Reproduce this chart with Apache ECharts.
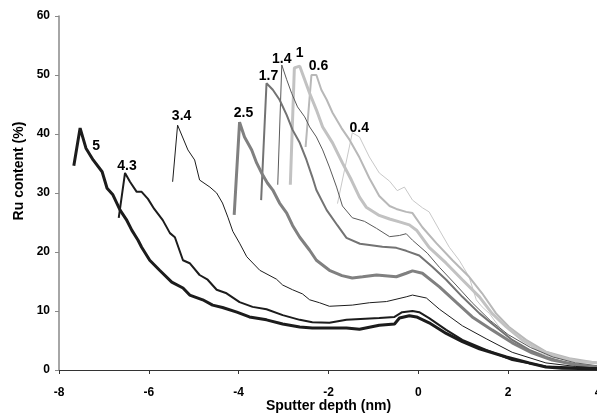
<!DOCTYPE html>
<html>
<head>
<meta charset="utf-8">
<script src="https://cdn.jsdelivr.net/npm/echarts@6/dist/echarts.min.js"></script>
<style>
  html, body { margin: 0; padding: 0; background: #fff; }
  #main { width: 597px; height: 416px; }
</style>
</head>
<body>
<div id="main"></div>
<script>
// Ru content vs sputter depth, one curve per label (nm)
var labels = ['5', '4.3', '3.4', '2.5', '1.7', '1.4', '1', '0.6', '0.4']

var s5 = [[-7.67,34.6],[-7.53,41.0],[-7.4,37.6],[-7.24,35.6],[-7.04,33.6],[-6.93,30.8],[-6.8,29.7],[-6.64,27.1],[-6.5,25.5],[-6.38,23.7],[-6.24,22.0],[-6.16,20.8],[-5.98,18.6],[-5.76,16.9],[-5.49,14.9],[-5.24,13.9],[-5.09,12.7],[-4.8,11.9],[-4.58,11.0],[-4.36,10.6],[-4.04,9.8],[-3.76,9.0],[-3.38,8.5],[-3.02,7.8],[-2.64,7.3],[-2.36,7.1],[-1.6,7.1],[-1.31,6.9],[-0.87,7.6],[-0.53,7.8],[-0.42,8.8],[-0.2,9.2],[-0.04,9.0],[0.24,8.0],[0.62,6.2],[0.98,4.8],[1.36,3.6],[1.96,2.2],[2.47,1.2],[2.84,0.5],[3.2,0.3],[4.0,0.2]]
var s43 = [[-6.67,25.8],[-6.53,33.4],[-6.42,31.9],[-6.27,30.2],[-6.16,30.2],[-6.02,29.0],[-5.88,27.3],[-5.69,25.4],[-5.53,23.2],[-5.42,22.5],[-5.24,18.6],[-5.09,18.1],[-4.87,16.1],[-4.69,15.3],[-4.49,13.6],[-4.27,13.0],[-3.98,11.5],[-3.69,10.7],[-3.38,10.3],[-3.02,9.3],[-2.64,8.5],[-2.36,8.1],[-1.98,8.0],[-1.6,8.5],[-0.87,8.8],[-0.53,9.0],[-0.36,9.8],[-0.13,10.0],[0.02,9.8],[0.24,8.8],[0.62,6.8],[0.98,5.1],[1.51,3.4],[2.09,1.7],[2.84,0.6],[4.0,0.3]]
var s34 = [[-5.47,31.9],[-5.36,41.5],[-5.13,37.3],[-4.98,35.6],[-4.87,32.2],[-4.64,31.0],[-4.49,30.0],[-4.36,28.3],[-4.24,25.9],[-4.13,23.5],[-3.98,21.5],[-3.82,19.2],[-3.53,16.9],[-3.16,15.4],[-3.02,14.4],[-2.8,13.6],[-2.58,12.9],[-2.42,11.9],[-2.2,11.4],[-1.98,10.8],[-1.47,11.0],[-1.09,11.4],[-0.71,11.6],[-0.27,12.4],[-0.13,12.7],[0.18,12.2],[0.47,10.3],[0.98,7.5],[1.51,5.3],[2.09,3.0],[2.84,1.2],[3.5,0.6],[4.0,0.3]]
var s25 = [[-4.1,26.3],[-3.98,42.0],[-3.87,39.5],[-3.71,37.3],[-3.6,35.1],[-3.49,33.4],[-3.36,31.7],[-3.24,30.5],[-3.09,28.3],[-2.93,26.6],[-2.8,24.5],[-2.64,22.5],[-2.42,20.3],[-2.27,18.6],[-1.98,16.9],[-1.7,16.0],[-1.47,15.6],[-1.24,15.8],[-0.93,16.1],[-0.49,15.8],[-0.27,16.4],[-0.13,16.8],[0.09,16.4],[0.47,14.1],[0.84,11.5],[1.2,9.0],[1.64,6.8],[2.09,4.6],[2.53,2.9],[2.98,1.7],[3.58,0.8],[4.0,0.5]]
var s17 = [[-3.5,28.8],[-3.38,48.6],[-3.24,47.5],[-3.09,45.8],[-2.93,43.2],[-2.8,40.7],[-2.64,38.5],[-2.49,35.6],[-2.36,32.7],[-2.27,30.5],[-2.04,27.1],[-1.8,24.5],[-1.6,22.4],[-1.3,21.4],[-1.09,21.2],[-0.8,20.9],[-0.49,20.7],[-0.27,20.2],[0.02,19.4],[0.31,17.5],[0.62,15.3],[0.98,12.4],[1.36,9.6],[1.73,7.3],[2.09,5.1],[2.47,3.4],[2.84,2.2],[3.29,1.2],[4.0,0.5]]
var s14 = [[-3.13,31.4],[-3.04,51.7],[-2.93,49.2],[-2.82,46.9],[-2.69,44.6],[-2.53,42.9],[-2.42,41.2],[-2.27,39.5],[-2.13,37.3],[-1.98,34.4],[-1.82,31.0],[-1.69,27.8],[-1.47,25.8],[-1.2,25.2],[-0.93,24.0],[-0.64,22.6],[-0.42,22.8],[-0.27,23.1],[-0.13,22.0],[0.2,19.8],[0.47,17.4],[0.84,14.4],[1.2,11.4],[1.6,8.4],[2.0,6.0],[2.5,3.8],[3.0,2.2],[3.5,1.2],[4.0,0.7]]
var s1 = [[-2.85,31.4],[-2.76,51.2],[-2.64,51.5],[-2.53,49.2],[-2.42,46.9],[-2.27,44.1],[-2.13,41.2],[-1.91,38.5],[-1.69,35.1],[-1.49,32.2],[-1.31,29.3],[-1.16,27.6],[-0.87,26.2],[-0.64,25.6],[-0.42,25.1],[-0.2,24.6],[-0.04,23.7],[0.24,20.8],[0.62,18.1],[0.98,15.3],[1.36,12.4],[1.64,9.6],[1.96,7.3],[2.31,5.1],[2.69,3.4],[3.13,2.2],[3.58,1.4],[4.0,1.2]]
var s06 = [[-2.51,37.8],[-2.38,50.0],[-2.27,50.0],[-2.16,47.5],[-2.04,45.8],[-1.91,43.6],[-1.71,41.0],[-1.53,39.0],[-1.31,36.0],[-1.09,32.5],[-0.87,29.5],[-0.64,27.8],[-0.49,27.3],[-0.27,26.8],[-0.13,26.6],[0.09,24.2],[0.4,21.5],[0.76,18.6],[1.13,15.8],[1.42,13.0],[1.73,9.6],[2.02,7.3],[2.4,5.1],[2.84,3.1],[3.36,2.0],[4.0,1.2]]
var s04 = [[-1.8,28.2],[-1.47,40.2],[-1.31,39.5],[-1.2,37.8],[-1.09,36.1],[-0.87,33.4],[-0.64,32.0],[-0.47,30.4],[-0.31,31.0],[-0.13,28.8],[0.09,27.5],[0.24,26.8],[0.47,23.7],[0.69,20.8],[0.91,18.6],[1.13,15.8],[1.29,11.9],[1.42,10.7],[1.58,9.6],[1.8,7.3],[2.09,5.1],[2.47,3.4],[2.98,2.2],[3.58,1.4],[4.0,1.2]]

var allData = [s5, s43, s34, s25, s17, s14, s1, s06, s04]

// line looks, same order as labels
var colors = ['#1c1c1c', '#1c1c1c', '#1c1c1c', '#808080', '#737373', '#5a5a5a', '#c2c2c2', '#b8b8b8', '#c8c8c8']
var widths = [3, 2, 1, 3, 2, 1, 3, 2, 1]
var labelOffsets = [[16, 18], [2, -7], [4, -9], [4, -9], [2, -7], [0, -6], [0, -13], [7, -9], [7, -5]]

var peakOf = function(arr) {
    var best = arr[0]
    arr.forEach(function(p) {
        if (p[1] > best[1]) best = p
    })
    return best
}

var series = []
// draw light curves first so the dark ones sit on top
for (var i = allData.length - 1; i >= 0; i--) {
    series.push({
        name: labels[i],
        type: 'line',
        data: allData[i],
        showSymbol: false,
        symbol: 'none',
        smooth: false,
        lineStyle: { color: colors[i], width: widths[i] },
        markPoint: {
            symbol: 'circle',
            symbolSize: 1,
            itemStyle: { color: 'rgba(0,0,0,0)' },
            label: {
                show: true,
                position: 'inside',
                formatter: labels[i],
                offset: labelOffsets[i],
                color: '#000',
                fontWeight: 'bold',
                fontSize: 14,
                fontFamily: 'Liberation Sans, Arial, sans-serif'
            },
            data: [{ coord: peakOf(allData[i]) }]
        },
        z: 2
    })
}

var myChart = echarts.init(document.querySelector('#main'))
var option = {
    animation: false,
    backgroundColor: '#fff',
    textStyle: { fontFamily: 'Liberation Sans, Arial, sans-serif' },
    grid: { left: 59, top: 16, width: 539, height: 354, outerBoundsMode: 'none', containLabel: false },
    xAxis: {
        type: 'value',
        min: -8,
        max: 4,
        interval: 2,
        name: 'Sputter depth (nm)',
        nameLocation: 'middle',
        nameGap: 29,
        nameMoveOverlap: false,
        nameTextStyle: { color: '#000', fontWeight: 'bold', fontSize: 14 },
        splitLine: { show: false },
        axisLine: { onZero: false, lineStyle: { color: '#333', width: 1 } },
        axisTick: { show: true, length: 4, lineStyle: { color: '#333' } },
        axisLabel: { color: '#000', fontWeight: 'bold', fontSize: 12, margin: 17 }
    },
    yAxis: {
        type: 'value',
        min: 0,
        max: 60,
        interval: 10,
        name: 'Ru content (%)',
        nameLocation: 'middle',
        nameGap: 32,
        // the title sits above the middle of the axis and is squeezed lengthwise
        nameTextStyle: {
            color: '#000', fontWeight: 'bold', fontSize: 14,
            fontFamily: 'Liberation Sans Narrow, Liberation Sans, Arial, sans-serif',
            padding: [0, 0, 0, 44]
        },
        splitLine: { show: false },
        axisLine: { show: true, onZero: false, lineStyle: { color: '#888', width: 1.5 } },
        axisTick: { show: true, length: 4, lineStyle: { color: '#888' } },
        axisLabel: { color: '#000', fontWeight: 'bold', fontSize: 12, margin: 9 }
    },
    series: series
}
myChart.setOption(option)
</script>
</body>
</html>
